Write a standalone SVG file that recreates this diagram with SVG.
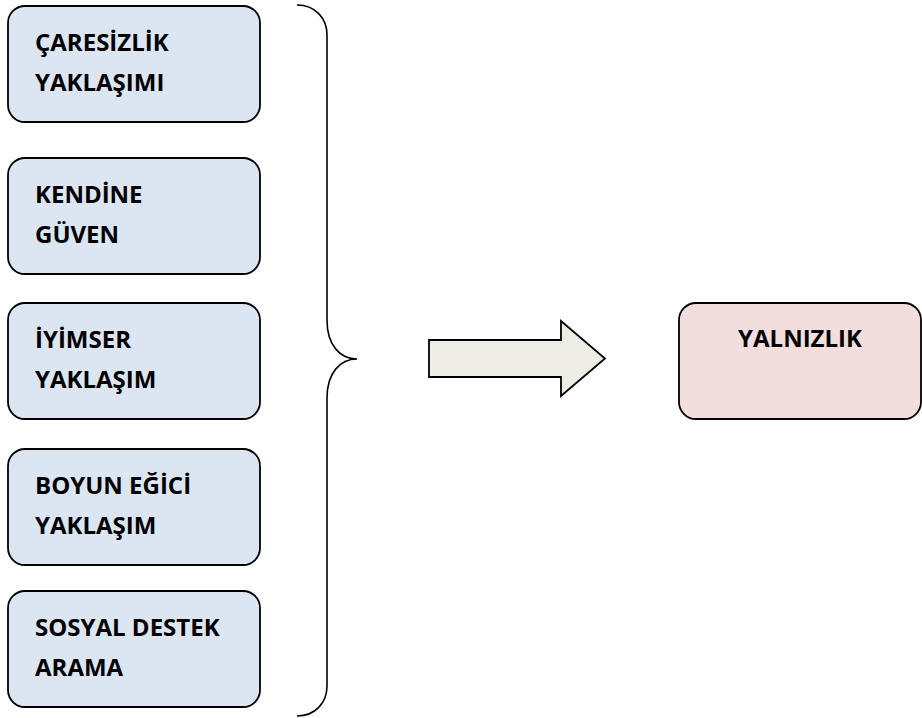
<svg xmlns="http://www.w3.org/2000/svg" width="922" height="718" viewBox="0 0 922 718">
<style>
.box{fill:#dce6f2;stroke:#000;stroke-width:1.8}
.out{fill:#f2dedd;stroke:#000;stroke-width:1.8}
.t{font-family:"Open Sans",Lato,sans-serif;font-weight:bold;font-size:24px;fill:#000}
.line{fill:none;stroke:#000;stroke-width:1.6}
.arrow{fill:#eeede4;stroke:#000;stroke-width:1.8}
</style>
<rect width="922" height="718" fill="#fff"/>
<g id="n1"><rect class="box" x="8" y="6" width="252" height="116" rx="17"/><text class="t" x="35" y="51">ÇARESİZLİK</text><text class="t" x="35" y="91">YAKLAŞIMI</text></g>
<g id="n2"><rect class="box" x="8" y="158" width="252" height="116" rx="17"/><text class="t" x="35" y="203">KENDİNE</text><text class="t" x="35" y="243">GÜVEN</text></g>
<g id="n3"><rect class="box" x="8" y="303" width="252" height="116" rx="17"/><text class="t" x="35" y="348">İYİMSER</text><text class="t" x="35" y="388">YAKLAŞIM</text></g>
<g id="n4"><rect class="box" x="8" y="449" width="252" height="116" rx="17"/><text class="t" x="35" y="494">BOYUN EĞİCİ</text><text class="t" x="35" y="534">YAKLAŞIM</text></g>
<g id="n5"><rect class="box" x="8" y="591" width="252" height="116" rx="17"/><text class="t" x="35" y="636">SOSYAL DESTEK</text><text class="t" x="35" y="676">ARAMA</text></g>
<g id="n6"><rect class="out" x="679" y="303" width="242" height="116" rx="17"/><text class="t" x="800" y="347" text-anchor="middle">YALNIZLIK</text></g>
<g id="connectors">
<path class="line" d="M297,5 C315,5 327,18 327,35 L327,320 C327,345 340,359 357,359 C340,359 327,373 327,398 L327,686 C327,703 315,716 297,716"/>
<polygon class="arrow" points="429,340 561,340 561,321 605,358.5 561,396 561,377 429,377"/>
</g>
</svg>
